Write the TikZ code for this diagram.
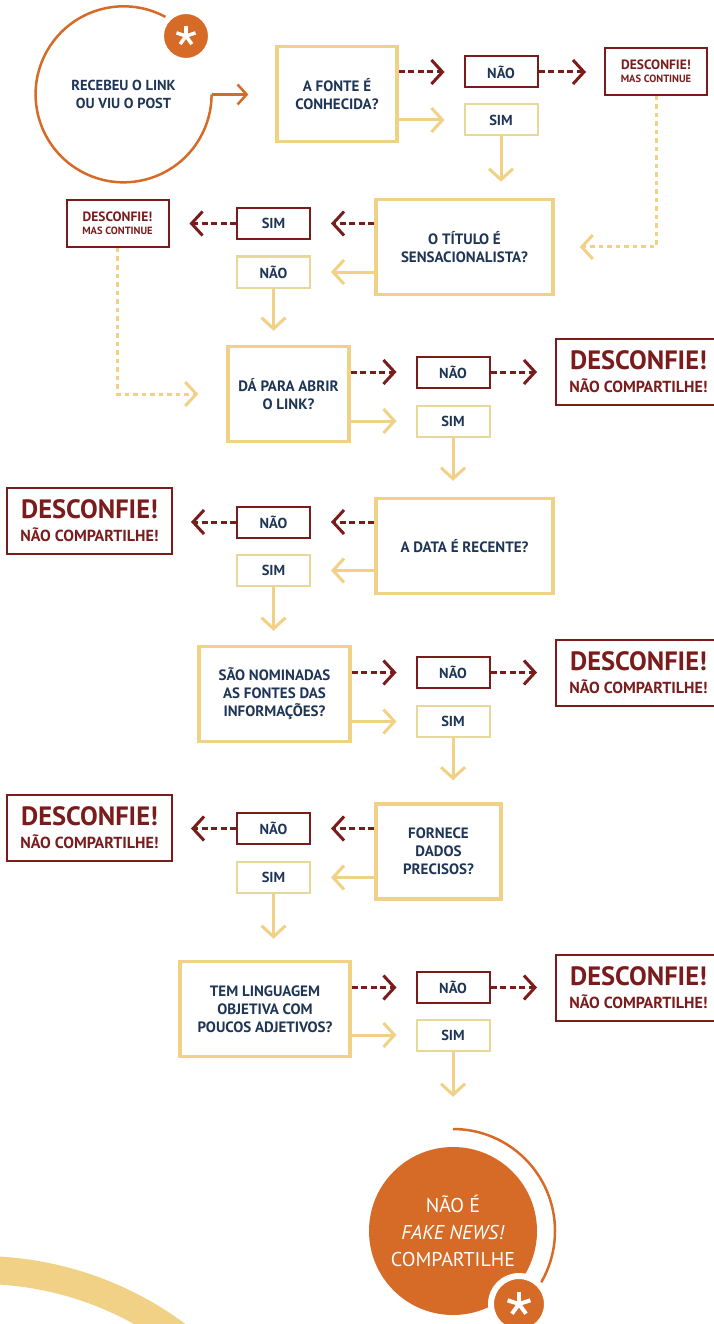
\documentclass[tikz,border=0pt]{standalone}
\usepackage{fontspec}
\setmainfont{PT Sans}
\usetikzlibrary{arrows.meta,positioning}

\definecolor{vinho}{HTML}{7A1C1C}
\definecolor{amarelo}{HTML}{F1D185}
\definecolor{amareloclaro}{HTML}{E6D79A}
\definecolor{laranja}{HTML}{D66A27}
\definecolor{azul}{HTML}{1E3556}

\tikzset{
  pergunta/.style={draw=amarelo, line width=3.5pt, inner sep=0pt, align=center, text=azul,
    font=\bfseries\fontsize{15}{18}\selectfont, minimum height=95pt},
  resposta/.style={line width=2pt, minimum width=73pt, minimum height=31pt, inner sep=0pt,
    text=azul, font=\bfseries\fontsize{14.5}{16}\selectfont},
  naobox/.style={resposta, draw=vinho},
  simbox/.style={resposta, draw=amareloclaro},
  alerta/.style={draw=vinho, line width=2pt, minimum width=102pt, minimum height=47pt,
    align=center, text=vinho, inner sep=0pt, font=\bfseries\fontsize{10.5}{13}\selectfont},
  alertagrande/.style={draw=vinho, line width=2pt, minimum width=165pt, minimum height=66pt,
    align=center, text=vinho, inner sep=0pt, font=\bfseries\fontsize{16}{23}\selectfont},
  tracejada/.style={vinho, line width=3pt, dash pattern=on 6pt off 3.5pt,
    -{Straight Barb[length=11pt,width=24pt]}},
  cheia/.style={amarelo, line width=3pt, -{Straight Barb[length=11pt,width=24pt]}},
  pontilhada/.style={amarelo, line width=3pt, dash pattern=on 4.5pt off 4pt,
    -{Straight Barb[length=11pt,width=24pt]}},
  selo/.style={circle, fill=laranja, draw=white, line width=6pt, inner sep=0pt},
}

\newcommand{\mascontinue}{{\fontsize{13.5}{13}\selectfont DESCONFIE!}\\MAS CONTINUE}
\newcommand{\naocompartilhe}{{\fontsize{26.5}{25}\selectfont DESCONFIE!}\\NÃO COMPARTILHE!}

\begin{document}
\begin{tikzpicture}[x=1pt, y=-1pt]
  \useasboundingbox (0,0) rectangle (714,1324);
  \clip (0,0) rectangle (714,1324);

  % decorative band, bottom left
  \draw [amarelo, line width=28pt] (-20,1600) ++(120:330pt) arc[start angle=120, end angle=40, radius=330pt];

  % start
  \node [circle, minimum size=176pt, inner sep=0pt, align=center, text=azul,
         font=\bfseries\fontsize{14.5}{18}\selectfont] (inicio) at (123.5,94.5) {RECEBEU O LINK\\OU VIU O POST};
  \draw [laranja, line width=2.5pt] (inicio.60) arc[start angle=60, end angle=360, radius=88pt];
  \node [selo, minimum size=50pt] (selo1) at (186,36) {};
  \foreach \a in {90,162,234,306,18}
    \draw [white, line width=3.5pt] (selo1.center) -- ++(\a:10pt);

  % 1
  \node [pergunta, minimum width=120pt] (fonte) at (337,94) {A FONTE É\\CONHECIDA?};
  \node [naobox] (naoFonte) at (501,72) {NÃO};
  \node [simbox] (simFonte) at (501,120) {SIM};
  \node [alerta] (alertaFonte) at (656,71.5) {\mascontinue};

  % 2
  \node [pergunta, minimum width=177pt] (titulo) at (464.5,247) {O TÍTULO É\\SENSACIONALISTA?};
  \node [naobox] (simTitulo) at (273.5,223.5) {SIM};
  \node [simbox] (naoTitulo) at (273.5,272) {NÃO};
  \node [alerta] (alertaTitulo) at (117.5,223.5) {\mascontinue};

  % 3
  \node [pergunta, minimum width=121pt] (link) at (288.5,394) {DÁ PARA ABRIR\\O LINK?};
  \node [naobox] (naoLink) at (453,372) {NÃO};
  \node [simbox] (simLink) at (453,421) {SIM};
  \node [alertagrande] (alertaLink) at (638.5,372) {\naocompartilhe};

  % 4
  \node [pergunta, minimum width=177pt] (data) at (464.5,546) {A DATA É RECENTE?};
  \node [naobox] (naoData) at (273.5,522) {NÃO};
  \node [simbox] (simData) at (273.5,570.5) {SIM};
  \node [alertagrande] (alertaData) at (89.5,521) {\naocompartilhe};

  % 5
  \node [pergunta, minimum width=151pt] (nomes) at (274.5,694) {SÃO NOMINADAS\\AS FONTES DAS\\INFORMAÇÕES?};
  \node [naobox] (naoNomes) at (453,672.5) {NÃO};
  \node [simbox] (simNomes) at (453,721.5) {SIM};
  \node [alertagrande] (alertaNomes) at (638.5,672.5) {\naocompartilhe};

  % 6
  \node [pergunta, minimum width=125pt] (dados) at (438.5,851.5) {FORNECE\\DADOS\\PRECISOS?};
  \node [naobox] (naoDados) at (273.5,828.5) {NÃO};
  \node [simbox] (simDados) at (273.5,877.5) {SIM};
  \node [alertagrande] (alertaDados) at (89.5,828) {\naocompartilhe};

  % 7
  \node [pergunta, minimum width=170pt] (ling) at (265,1009) {TEM LINGUAGEM\\OBJETIVA COM\\POUCOS ADJETIVOS?};
  \node [naobox] (naoLing) at (453,987.5) {NÃO};
  \node [simbox] (simLing) at (453,1035) {SIM};
  \node [alertagrande] (alertaLing) at (638.5,987.5) {\naocompartilhe};

  % end
  \node [circle, fill=laranja, minimum size=168pt, inner sep=0pt, align=center, text=white,
         font=\fontsize{20}{27}\selectfont] (fim) at (453,1231) {NÃO É\\\textit{FAKE NEWS!}\\COMPARTILHE};
  \draw [laranja, line width=2.5pt] (fim.center) ++(90:102pt) arc[start angle=90, end angle=-32, radius=102pt];
  \node [selo, minimum size=56pt] (selo2) at (519,1304) {};
  \foreach \a in {90,162,234,306,18}
    \draw [white, line width=4pt] (selo2.center) -- ++(\a:12pt);

  % connectors
  \draw [laranja, line width=2.5pt, -{Straight Barb[length=9pt,width=20pt]}, shorten >=27pt] (inicio.east) -- (inicio.east -| fonte.west);

  \draw [tracejada, shorten >=19pt] (fonte.east |- naoFonte) -- (naoFonte.west);
  \draw [cheia, shorten >=19pt] (fonte.east |- simFonte) -- (simFonte.west);
  \draw [tracejada, shorten >=18pt] (naoFonte.east) -- (naoFonte.east -| alertaFonte.west);
  \draw [cheia, shorten >=16pt] (simFonte.south) -- (simFonte.south |- titulo.north);
  \draw [pontilhada, shorten >=25pt] (alertaFonte.south) |- (titulo.east);

  \draw [tracejada, shorten >=20pt] (titulo.west |- simTitulo) -- (simTitulo.east);
  \draw [cheia, shorten >=20pt] (titulo.west |- naoTitulo) -- (naoTitulo.east);
  \draw [tracejada, shorten >=20pt] (simTitulo.west) -- (alertaTitulo.east);
  \draw [cheia, shorten >=14pt] (naoTitulo.south) -- (naoTitulo.south |- link.north);
  \draw [pontilhada, shorten >=28pt] (alertaTitulo.south) |- (link.west);

  \draw [tracejada, shorten >=19pt] (link.east |- naoLink) -- (naoLink.west);
  \draw [cheia, shorten >=19pt] (link.east |- simLink) -- (simLink.west);
  \draw [tracejada, shorten >=18pt] (naoLink.east) -- (alertaLink.west);
  \draw [cheia, shorten >=16pt] (simLink.south) -- (simLink.south |- data.north);

  \draw [tracejada, shorten >=20pt] (data.west |- naoData) -- (naoData.east);
  \draw [cheia, shorten >=20pt] (data.west |- simData) -- (simData.east);
  \draw [tracejada, shorten >=18pt] (naoData.west) -- (naoData.west -| alertaData.east);
  \draw [cheia, shorten >=14pt] (simData.south) -- (simData.south |- nomes.north);

  \draw [tracejada, shorten >=19pt] (nomes.east |- naoNomes) -- (naoNomes.west);
  \draw [cheia, shorten >=19pt] (nomes.east |- simNomes) -- (simNomes.west);
  \draw [tracejada, shorten >=18pt] (naoNomes.east) -- (alertaNomes.west);
  \draw [cheia, shorten >=22pt] (simNomes.south) -- (simNomes.south |- dados.north);

  \draw [tracejada, shorten >=20pt] (dados.west |- naoDados) -- (naoDados.east);
  \draw [cheia, shorten >=20pt] (dados.west |- simDados) -- (simDados.east);
  \draw [tracejada, shorten >=18pt] (naoDados.west) -- (naoDados.west -| alertaDados.east);
  \draw [cheia, shorten >=21pt] (simDados.south) -- (simDados.south |- ling.north);

  \draw [tracejada, shorten >=19pt] (ling.east |- naoLing) -- (naoLing.west);
  \draw [cheia, shorten >=19pt] (ling.east |- simLing) -- (simLing.west);
  \draw [tracejada, shorten >=18pt] (naoLing.east) -- (alertaLing.west);
  \draw [cheia, shorten >=50pt] (simLing.south) -- (fim.north);
\end{tikzpicture}
\end{document}
